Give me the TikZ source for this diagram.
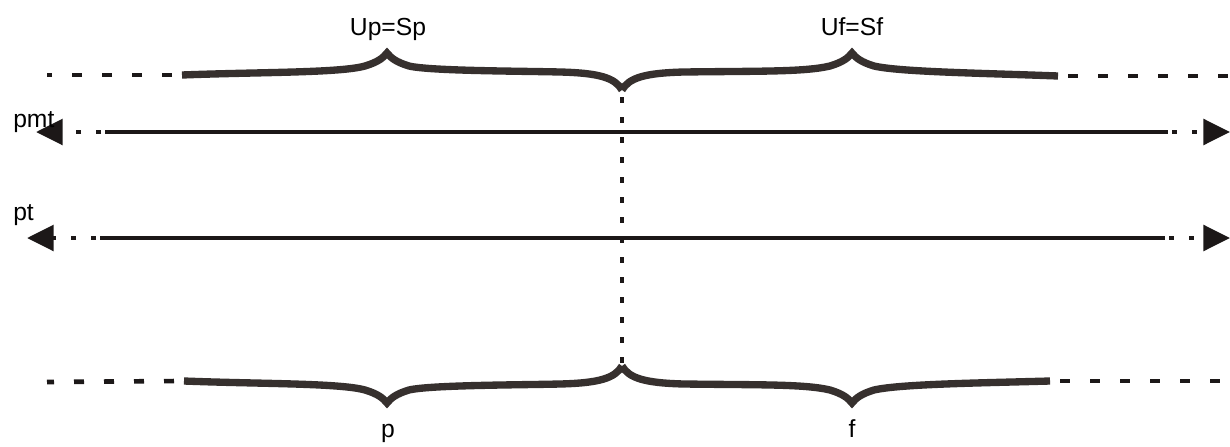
\documentclass[tikz,border=0pt]{standalone}
\usepackage{fontspec}
\setmainfont{Liberation Sans}
\usepackage{tikz}
\usetikzlibrary{arrows.meta}
\definecolor{braceclr}{RGB}{54,48,46}
\definecolor{lineclr}{RGB}{28,24,24}
\tikzset{
  bracestroke/.style={draw=braceclr,line width=5.5pt,line cap=butt},
  solidline/.style={draw=lineclr,line width=3.5pt},
  dotext/.style={draw=lineclr,line width=3.5pt,dash pattern=on 4pt off 11pt,dash phase=-3pt,
    -{Triangle[length=20pt,width=19pt]}},
  guideline/.style={draw=lineclr,line width=3.5pt,dash pattern=on 7.5pt off 15pt,dash phase=15pt},
  vguide/.style={draw=lineclr,line width=3.5pt,dash pattern=on 4.5pt off 10.5pt},
  lbl/.style={anchor=base,inner sep=0.75pt,font=\fontsize{18.5}{22}\selectfont}
}

\begin{document}
\begin{tikzpicture}[x=0.75pt,y=0.75pt,yscale=-1,xscale=1]
\useasboundingbox (0,0) rectangle (1230,446);
% end points
\coordinate (tlA) at (47,75);    \coordinate (tlB) at (182,75);
\coordinate (trA) at (1058,76);  \coordinate (trB) at (1230,76);
\coordinate (blA) at (47,382);   \coordinate (blB) at (184,381);
\coordinate (brA) at (1050,381); \coordinate (brB) at (1230,381);
\coordinate (vTop) at (622,97);  \coordinate (vBot) at (622,366);
\coordinate (pmtL) at (36,132);  \coordinate (pmtS) at (105,132);
\coordinate (pmtE) at (1168,132); \coordinate (pmtR) at (1230,132);
\coordinate (ptL) at (27,238);   \coordinate (ptS) at (100,238);
\coordinate (ptE) at (1165,238); \coordinate (ptR) at (1230,238);

% braces on top
\draw [bracestroke] (tlB) .. controls (260,72) and (340,73) .. (365,66) .. controls (378,62) and (383,58) .. (387,53) .. controls (391,58) and (396,62) .. (409,66) .. controls (430,71) and (520,71) .. (560,72) .. controls (600,73) and (615,78) .. (622,90) ;
\draw [bracestroke] (622,90) .. controls (629,78) and (644,73) .. (684,72) .. controls (760,71) and (805,72) .. (830,66) .. controls (843,62) and (848,58) .. (852,53) .. controls (856,58) and (861,62) .. (874,66) .. controls (900,72) and (980,73) .. (trA) ;
% braces at the bottom
\draw [bracestroke] (blB) .. controls (260,384) and (340,383) .. (365,390) .. controls (378,394) and (383,398) .. (387,403) .. controls (391,398) and (396,394) .. (409,390) .. controls (430,385) and (520,385) .. (560,384) .. controls (600,383) and (615,378) .. (622,366) ;
\draw [bracestroke] (622,366) .. controls (629,378) and (644,383) .. (684,384) .. controls (760,385) and (805,384) .. (830,390) .. controls (843,394) and (848,398) .. (852,403) .. controls (856,398) and (861,394) .. (874,390) .. controls (900,384) and (980,383) .. (brA) ;

% dotted guides
\draw [guideline] (tlB) -- (tlA) ;
\draw [guideline] (trA) -- (trB) ;
\draw [guideline] (blB) -- (blA) ;
\draw [guideline] (brA) -- (brB) ;
\draw [vguide] (vTop) -- (vBot) ;

% time lines
\draw [solidline] (pmtS) -- (pmtE) ;
\draw [dotext] (pmtS) -- (pmtL) ;
\draw [dotext] (pmtE) -- (pmtR) ;
\draw [solidline] (ptS) -- (ptE) ;
\draw [dotext] (ptS) -- (ptL) ;
\draw [dotext] (ptE) -- (ptR) ;

% labels
\draw (388,35) node [lbl] (upsp) {Up=Sp};
\draw (852,35) node [lbl] (ufsf) {Uf=Sf};
\draw (388,437) node [lbl] (pLbl) {p};
\draw (852,437) node [lbl] (fLbl) {f};
\draw (12,127) node [lbl,anchor=base west] (pmtLbl) {pmt};
\draw (12,220) node [lbl,anchor=base west] (ptLbl) {pt};
\end{tikzpicture}
\end{document}
